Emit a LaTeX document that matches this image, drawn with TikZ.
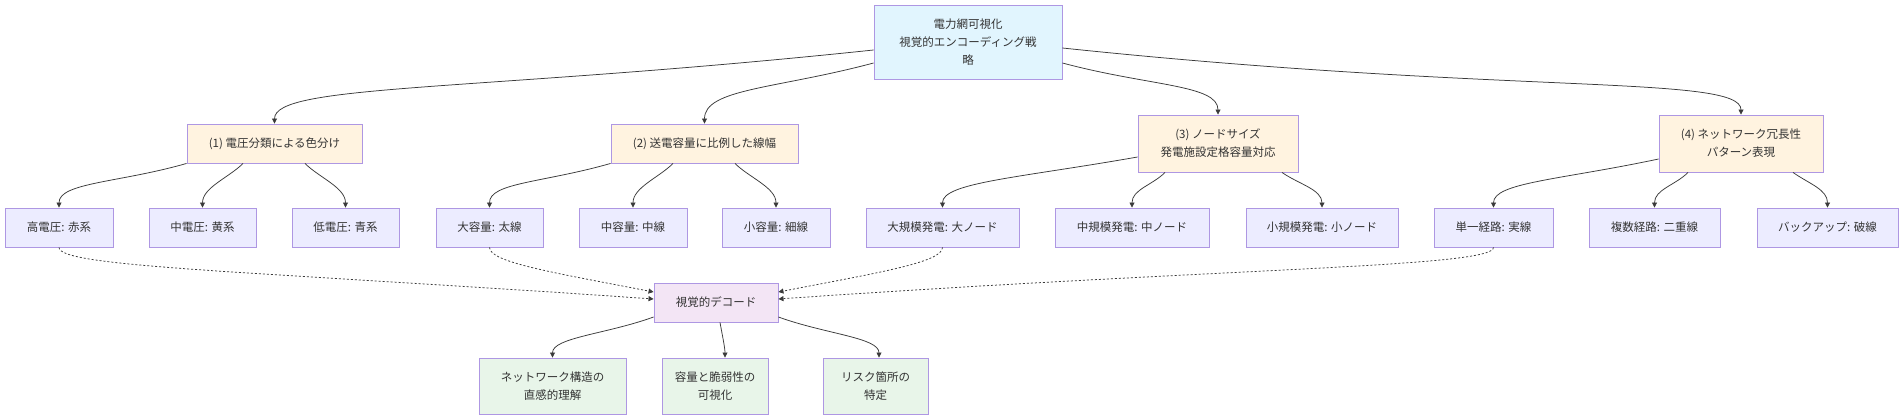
\documentclass[tikz,border=0pt]{standalone}
\usepackage{fontspec}
\usepackage{tikz}
\usetikzlibrary{arrows.meta}
\newfontfamily\jpfont{Noto Sans CJK JP}
\definecolor{NodeStroke}{HTML}{AE97E3}
\definecolor{TextGray}{HTML}{333333}
\definecolor{EdgeGray}{HTML}{3A3A3A}
\definecolor{GoalBlue}{HTML}{E1F5FE}
\definecolor{StratOrange}{HTML}{FFF3E0}
\definecolor{ItemLavender}{HTML}{ECECFF}
\definecolor{DecodePink}{HTML}{F3E5F5}
\definecolor{ResultGreen}{HTML}{E8F5E9}

\begin{document}
\begin{tikzpicture}[x=1pt, y=-1pt, >={Triangle[length=5pt,width=5pt]},
    box/.style={draw=NodeStroke, line width=0.9pt, inner sep=0pt, align=center, text=TextGray, font=\jpfont\fontsize{11.5}{18}\selectfont},
    goalbox/.style={box, fill=GoalBlue},
    stratbox/.style={box, fill=StratOrange},
    itembox/.style={box, fill=ItemLavender, minimum height=39pt},
    decodebox/.style={box, fill=DecodePink, minimum height=39pt},
    resultbox/.style={box, fill=ResultGreen, minimum height=56pt},
    link/.style={->, line width=0.75pt, draw=EdgeGray},
    hint/.style={link, dash pattern=on 2pt off 2pt}]

    \path[use as bounding box, fill=white] (0,0) rectangle (1904,420);

    \node[goalbox, minimum width=188pt, minimum height=74pt] (goal) at (968,42) {電力網可視化\\視覚的エンコーディング戦\\略};

    % Strategies
    \node[stratbox, minimum width=175pt, minimum height=39pt] (volt) at (274.5,143.5) {(1) 電圧分類による色分け};
    \node[stratbox, minimum width=187pt, minimum height=39pt] (cap) at (704.5,143.5) {(2) 送電容量に比例した線幅};
    \node[stratbox, minimum width=160pt, minimum height=57pt] (gen) at (1218,143.5) {(3) ノードサイズ\\発電施設定格容量対応};
    \node[stratbox, minimum width=164pt, minimum height=57pt] (redund) at (1741,143.5) {(4) ネットワーク冗長性\\パターン表現};

    % Encodings
    \node[itembox, minimum width=108pt] (voltHi) at (59,227.5) {高電圧: 赤系};
    \node[itembox, minimum width=107pt] (voltMid) at (202.5,227.5) {中電圧: 黄系};
    \node[itembox, minimum width=107pt] (voltLo) at (345.5,227.5) {低電圧: 青系};
    \node[itembox, minimum width=107pt] (capBig) at (489.5,227.5) {大容量: 太線};
    \node[itembox, minimum width=108pt] (capMid) at (633,227.5) {中容量: 中線};
    \node[itembox, minimum width=108pt] (capSmall) at (776,227.5) {小容量: 細線};
    \node[itembox, minimum width=153pt] (genBig) at (942.5,227.5) {大規模発電: 大ノード};
    \node[itembox, minimum width=154pt] (genMid) at (1132,227.5) {中規模発電: 中ノード};
    \node[itembox, minimum width=152pt] (genSmall) at (1322,227.5) {小規模発電: 小ノード};
    \node[itembox, minimum width=119pt] (pathSingle) at (1493.5,227.5) {単一経路: 実線};
    \node[itembox, minimum width=131pt] (pathMulti) at (1654.5,227.5) {複数経路: 二重線};
    \node[itembox, minimum width=141pt] (pathBackup) at (1827.5,227.5) {バックアップ: 破線};

    % Decoding and outcomes
    \node[decodebox, minimum width=124pt] (decode) at (716,302.5) {視覚的デコード};
    \node[resultbox, minimum width=147pt] (insight) at (552.5,386) {ネットワーク構造の\\直感的理解};
    \node[resultbox, minimum width=106pt] (weak) at (715,386) {容量と脆弱性の\\可視化};
    \node[resultbox, minimum width=105pt] (risk) at (875.5,386) {リスク箇所の\\特定};

    \draw[link] ([yshift=-8pt]goal.west) to[out=186, in=90, out distance=400pt, in distance=40pt] (volt.north);
    \draw[link] ([yshift=-21pt]goal.west) to[out=195, in=90, out distance=100pt, in distance=35pt] (cap.north);
    \draw[link] ([yshift=-21pt]goal.east) to[out=-15, in=90, out distance=90pt, in distance=30pt] (gen.north);
    \draw[link] ([yshift=-6pt]goal.east) to[out=-6, in=90, out distance=450pt, in distance=40pt] (redund.north);

    \draw[link] (volt.south west) to[out=196, in=90, out distance=70pt, in distance=25pt] (voltHi.north);
    \draw[link] ([xshift=-31.5pt]volt.south) to[out=225, in=90, out distance=20pt, in distance=20pt] (voltMid.north);
    \draw[link] ([xshift=30.5pt]volt.south) to[out=-45, in=90, out distance=20pt, in distance=20pt] (voltLo.north);

    \draw[link] (cap.south west) to[out=196, in=90, out distance=70pt, in distance=25pt] (capBig.north);
    \draw[link] ([xshift=-31.5pt]cap.south) to[out=225, in=90, out distance=20pt, in distance=20pt] (capMid.north);
    \draw[link] ([xshift=30.5pt]cap.south) to[out=-45, in=90, out distance=20pt, in distance=20pt] (capSmall.north);

    \draw[link] ([yshift=-13.5pt]gen.west) to[out=190, in=90, out distance=120pt, in distance=25pt] (genBig.north);
    \draw[link] ([xshift=-53pt]gen.south) to[out=225, in=90, out distance=18pt, in distance=18pt] (genMid.north);
    \draw[link] ([xshift=64pt]gen.south) to[out=-35, in=90, out distance=20pt, in distance=18pt] (genSmall.north);

    \draw[link] ([yshift=-15.5pt]redund.west) to[out=192, in=90, out distance=100pt, in distance=25pt] (pathSingle.north);
    \draw[link] ([xshift=-53pt]redund.south) to[out=225, in=90, out distance=18pt, in distance=18pt] (pathMulti.north);
    \draw[link] ([xshift=52pt]redund.south) to[out=-35, in=90, out distance=20pt, in distance=18pt] (pathBackup.north);

    % Dotted feeds into decoding
    \draw[hint] (voltHi.south) to[out=-90, in=176, out distance=20pt, in distance=400pt] ([yshift=3.5pt]decode.west);
    \draw[hint] (capBig.south) to[out=-90, in=169, out distance=15pt, in distance=100pt] ([yshift=10.5pt]decode.west);
    \draw[hint] (genBig.south) to[out=-90, in=11, out distance=15pt, in distance=100pt] ([yshift=10.5pt]decode.east);
    \draw[hint] (pathSingle.south) to[out=-90, in=4, out distance=20pt, in distance=450pt] ([yshift=3.5pt]decode.east);

    \draw[link] ([yshift=-14.5pt]decode.west) to[out=200, in=90, out distance=50pt, in distance=20pt] (insight.north);
    \draw[link] ([xshift=4pt]decode.south) to[out=-80, in=90, out distance=10pt, in distance=10pt] ([xshift=10pt]weak.north);
    \draw[link] ([yshift=-14.5pt]decode.east) to[out=-20, in=90, out distance=50pt, in distance=20pt] ([xshift=3.5pt]risk.north);
\end{tikzpicture}
\end{document}
